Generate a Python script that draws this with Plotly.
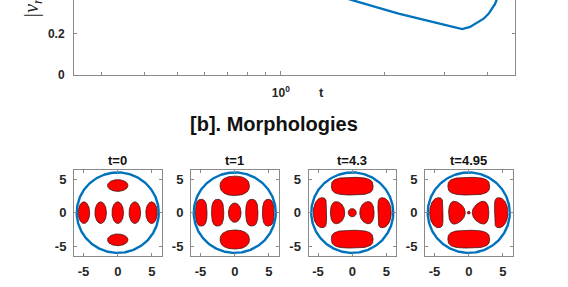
import numpy as np
import plotly.graph_objects as go

# ---------------- data ----------------
# [a] |v_r| vs t (log x)
t_vals = [0.25, 0.5, 1.0, 1.64, 2.2, 2.8, 3.37, 3.55, 3.72, 3.89, 4.02, 4.2, 4.3, 4.5, 4.8]
v_vals = [0.78, 0.62, 0.47, 0.36, 0.298, 0.255, 0.222, 0.233, 0.252, 0.273, 0.297, 0.345, 0.39, 0.5, 0.7]

# [b] morphologies: times, domain circle radius, blobs
panel_times = ["0", "1", "4.3", "4.95"]
circle_radius = 6.0
# each blob: (cx, cy, a, b, squareness n, bend, taper)
blobs_t0 = [
    (0, 4.05, 1.5, 0.88, 2.0, 0, 0), (0, -4.05, 1.5, 0.88, 2.0, 0, 0),
    (-4.95, 0, 0.85, 1.62, 2.0, 0, 0), (-2.5, 0, 0.85, 1.62, 2.0, 0, 0),
    (0, 0, 0.85, 1.62, 2.0, 0, 0), (2.5, 0, 0.85, 1.62, 2.0, 0, 0),
    (4.95, 0, 0.85, 1.62, 2.0, 0, 0),
]
blobs_t1 = [
    (0, 4.0, 2.15, 1.45, 2.3, 0, 0), (0, -4.0, 2.15, 1.42, 2.3, 0, 0),
    (-4.9, 0, 0.85, 2.0, 2.6, 0, 0), (-2.5, 0, 0.9, 2.0, 2.6, 0, 0),
    (0, 0, 0.93, 1.45, 2.0, 0, 0), (2.5, 0, 0.9, 2.0, 2.6, 0, 0),
    (4.9, 0, 0.85, 2.0, 2.6, 0, 0),
]
blobs_t43 = [
    (0, 3.95, 3.05, 1.32, 3.0, 0, 0), (0, -3.95, 3.05, 1.33, 3.0, 0, 0),
    (-4.74, 0, 0.97, 2.24, 2.5, 0.35, 0), (4.74, 0, 0.97, 2.24, 2.5, 0.35, 0),
    (-2.15, 0, 1.05, 1.63, 2.2, 0, 0.15), (2.15, 0, 1.05, 1.63, 2.2, 0, 0.15),
    (0, 0, 0.6, 0.62, 2.0, 0, 0),
]
blobs_t495 = [
    (0, 3.95, 3.05, 1.32, 3.0, 0, 0), (0, -3.95, 3.05, 1.33, 3.0, 0, 0),
    (-4.75, 0, 0.97, 2.24, 2.5, 0.35, 0), (4.75, 0, 0.97, 2.24, 2.5, 0.35, 0),
    (-1.73, 0, 1.22, 1.62, 2.2, 0, 0.3), (1.73, 0, 1.22, 1.62, 2.2, 0, 0.3),
    (0, 0, 0.22, 0.22, 2.0, 0, 0),
]
panel_blobs = [blobs_t0, blobs_t1, blobs_t43, blobs_t495]

# ---------------- styling ----------------
W, H = 568, 287
FONT = "Liberation Sans"
TXT = "#262626"
AXC = "#8a8a8a"
BLUE = "#0072BD"


def blob_outline(cx, cy, a, b, n, bend, taper, m=160):
    th = np.linspace(0, 2 * np.pi, m)
    c, s = np.cos(th), np.sin(th)
    X = np.sign(c) * np.abs(c) ** (2.0 / n)
    Y = np.sign(s) * np.abs(s) ** (2.0 / n)
    d = -np.sign(cx) if cx != 0 else 0.0
    x = cx + a * X + bend * Y ** 2 * d
    y = cy + b * Y * (1 - taper * X * d)
    return x, y


fig = go.Figure()

# ---- top plot ----
fig.add_trace(go.Scatter(x=t_vals, y=v_vals, mode="lines",
                         line=dict(color=BLUE, width=2.3),
                         xaxis="x", yaxis="y", showlegend=False))

top_y0 = 76.5
fig.update_layout(
    xaxis=dict(type="log", domain=[74 / W, 515 / W],
               range=[np.log10(0.25), np.log10(4.8)],
               showline=True, linecolor=AXC, linewidth=1, mirror=False,
               ticks="inside", ticklen=4, tickcolor=AXC,
               tickvals=[1], ticktext=["10<sup>0</sup>"],
               minor=dict(ticks="inside", ticklen=2.5, tickcolor=AXC,
                          tickvals=[0.3, 0.4, 0.5, 0.6, 0.7, 0.8, 0.9, 2, 3, 4]),
               showgrid=False, zeroline=False, anchor="y",
               tickfont=dict(family=FONT, size=12, color=TXT, weight="bold"),
               ticklabelstandoff=7),
    yaxis=dict(domain=[1 - top_y0 / H, 1], range=[0, top_y0 / 210.0],
               showline=True, linecolor=AXC, linewidth=1, mirror="ticks",
               ticks="inside", ticklen=3, tickcolor=AXC,
               tickvals=[0, 0.2, 0.4], ticktext=["0", "0.2", "0.4"],
               showgrid=False, zeroline=False, anchor="x",
               tickfont=dict(family=FONT, size=12, color=TXT, weight="bold"),
               ticklabelstandoff=6),
)

# ---- bottom panels ----
R = 6.4
lefts = [74, 191, 308.5, 425]
pw = 87.5
ybot, ytop = 262, 174
th = np.linspace(0, 2 * np.pi, 300)
for i, (tt, blobs) in enumerate(zip(panel_times, panel_blobs)):
    k = i + 2
    xa, ya = f"x{k}", f"y{k}"
    for bl in blobs:
        bx, by = blob_outline(*bl)
        fig.add_trace(go.Scatter(x=bx, y=by, mode="lines", fill="toself",
                                 fillcolor="#FF0000",
                                 line=dict(color="#2a1010", width=0.7),
                                 xaxis=xa, yaxis=ya, showlegend=False,
                                 hoverinfo="skip"))
    fig.add_trace(go.Scatter(x=circle_radius * np.cos(th), y=circle_radius * np.sin(th),
                             mode="lines", line=dict(color=BLUE, width=2.4),
                             xaxis=xa, yaxis=ya, showlegend=False))
    common = dict(range=[-R, R], showline=True, linecolor=AXC, linewidth=1,
                  mirror="allticks", ticks="inside", ticklen=3, tickcolor=AXC,
                  tickvals=[-5, 0, 5], ticktext=["-5", "0", "5"],
                  showgrid=False, zeroline=False,
                  tickfont=dict(family=FONT, size=13, color=TXT, weight="bold"),
                  ticklabelstandoff=4)
    fig.update_layout({
        f"xaxis{k}": dict(domain=[lefts[i] / W, (lefts[i] + pw) / W], anchor=ya, **common),
        f"yaxis{k}": dict(domain=[1 - ybot / H, 1 - ytop / H], anchor=xa, **common),
    })
    fig.add_annotation(text=f"<b>t={tt}</b>", xref="paper", yref="paper",
                       x=(lefts[i] + pw / 2) / W, y=1 - 164 / H,
                       xanchor="center", yanchor="middle", showarrow=False,
                       font=dict(family=FONT, size=13, color="#111"))

# ---- annotations ----
fig.add_annotation(text="<b>t</b>", xref="paper", yref="paper",
                   x=321 / W, y=1 - 95 / H, xanchor="center", yanchor="middle",
                   showarrow=False, font=dict(family=FONT, size=13, color=TXT))
fig.add_annotation(text="<b>[b]. Morphologies</b>", xref="paper", yref="paper",
                   x=274 / W, y=1 - 127 / H, xanchor="center", yanchor="middle",
                   showarrow=False, font=dict(family=FONT, size=20, color="#111"))
fig.add_annotation(text="<i>|v<sub>r</sub>|</i>", xref="paper", yref="paper",
                   x=32.5 / W, y=1 - 6 / H, xanchor="center", yanchor="middle",
                   textangle=-90, showarrow=False,
                   font=dict(family="Liberation Serif", size=20, color=TXT))

fig.update_layout(width=W, height=H, autosize=False,
                  margin=dict(l=0, r=0, t=0, b=0, pad=0),
                  paper_bgcolor="white", plot_bgcolor="white")

fig.write_html("out.html",
               config={"displayModeBar": False},
               post_script="document.body.style.margin='0px';"
                           "document.body.style.padding='0px';"
                           "document.body.style.overflow='hidden';")
